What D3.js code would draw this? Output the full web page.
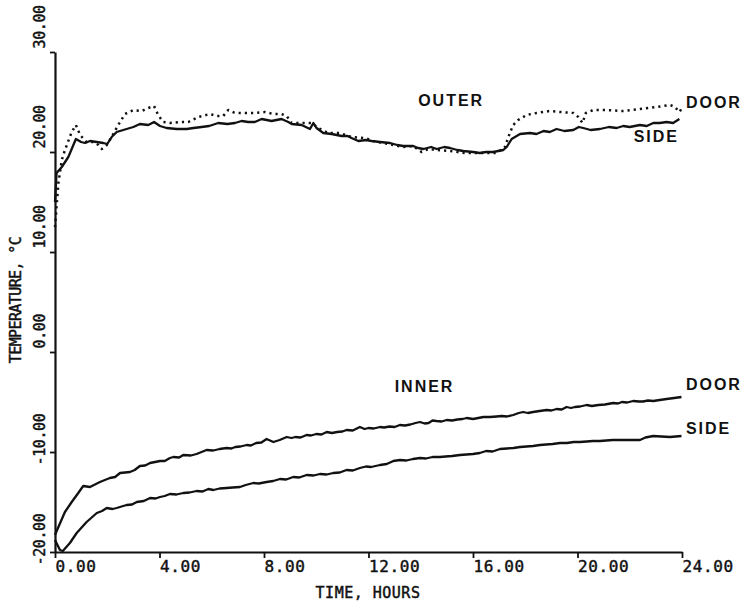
<!DOCTYPE html>
<html>
<head>
<meta charset="utf-8">
<script src="https://cdn.jsdelivr.net/npm/d3@7"></script>
<style>
  html, body { margin: 0; padding: 0; background: #fff; }
  svg { display: block; }
  .tick-label { font-family: "DejaVu Sans Mono", monospace; fill: #111; stroke: #111; stroke-width: 0.45px; }
  .curve-label { font-family: "Liberation Sans", Arial, sans-serif; font-weight: bold; fill: #111; }
</style>
</head>
<body>
<svg id="chart" width="750" height="608"></svg>
<script>
// Hourly temperature traces, [hours, °C]
const outerSide = [
  [0,15.0],[0.06,17.9],[0.26,18.5],[0.51,19.5],[0.8,21.3],[1.0,21.0],[1.15,20.9],[1.34,21.1],
  [1.6,21.0],[1.85,20.9],[2.0,20.8],[2.17,21.5],[2.36,22.0],[2.74,22.3],[3.0,22.5],[3.25,22.8],
  [3.57,22.7],[3.79,23.0],[4.02,22.6],[4.27,22.4],[4.66,22.3],[5.04,22.3],[5.3,22.4],[5.61,22.5],
  [5.9,22.6],[6.25,22.9],[6.6,22.8],[6.89,22.9],[7.14,23.1],[7.4,23.0],[7.65,23.0],[7.91,23.3],
  [8.29,23.1],[8.67,23.3],[8.93,23.0],[9.06,22.8],[9.44,22.7],[9.76,22.3],[9.89,22.9],[10.01,22.4],
  [10.27,21.9],[10.59,21.8],[10.97,21.6],[11.2,21.6],[11.35,21.4],[11.61,21.1],[11.9,21.2],[12.12,21.1],
  [12.44,21.0],[12.82,20.9],[13.1,20.7],[13.33,20.6],[13.71,20.6],[13.9,20.4],[14.1,20.3],[14.4,20.5],
  [14.61,20.3],[14.9,20.5],[15.12,20.4],[15.4,20.2],[15.63,20.1],[16.0,20.0],[16.26,19.9],[16.5,20.0],
  [16.77,20.0],[17.16,20.2],[17.29,20.5],[17.48,21.3],[17.8,21.8],[18.18,21.9],[18.43,21.8],[18.7,22.1],
  [18.94,22.0],[19.2,22.3],[19.5,22.1],[19.84,22.2],[20.05,22.5],[20.22,22.4],[20.5,22.2],[20.86,22.3],
  [21.2,22.5],[21.5,22.4],[21.75,22.6],[22.0,22.5],[22.39,22.7],[22.65,22.6],[22.9,22.9],[23.15,22.9],
  [23.41,23.0],[23.66,22.9],[23.9,23.3]
];

const outerDoor = [
  [0,12.5],[0.13,16.9],[0.26,19.2],[0.38,20.2],[0.64,22.0],[0.8,22.7],[0.96,21.7],[1.21,21.0],
  [1.47,21.0],[1.66,20.7],[1.79,20.3],[1.98,20.7],[2.17,21.5],[2.42,22.7],[2.68,23.8],[3.0,24.2],
  [3.32,24.1],[3.57,24.4],[3.79,24.6],[3.95,23.7],[4.14,23.0],[4.4,22.9],[4.78,23.0],[5.1,23.0],
  [5.48,23.5],[5.93,23.8],[6.19,23.6],[6.44,23.6],[6.63,24.2],[6.89,23.9],[7.21,23.9],[7.65,23.9],
  [8.04,24.0],[8.35,23.8],[8.67,23.8],[8.87,23.6],[9.06,22.9],[9.44,22.9],[9.82,22.9],[10.08,22.4],
  [10.46,21.9],[10.9,21.9],[11.35,21.5],[11.86,21.4],[12.18,21.1],[12.56,20.9],[13.33,20.5],[13.7,20.6],
  [14.03,20.0],[14.3,20.3],[14.61,20.2],[15.12,20.1],[15.69,19.9],[16.0,19.9],[16.52,19.9],[16.9,19.9],
  [17.22,20.5],[17.41,21.9],[17.54,22.7],[17.73,23.2],[18.05,23.7],[18.43,23.9],[18.94,24.1],[19.33,24.0],
  [19.84,23.9],[20.03,23.5],[20.19,22.9],[20.32,23.9],[20.6,24.2],[21.11,24.2],[21.75,24.1],[22.39,24.3],
  [23.03,24.5],[23.54,24.7],[23.73,24.5],[23.9,24.0],[24.0,24.4]
];

const innerDoor = [
  [0,-18.3],[0.13,-17.5],[0.38,-16.0],[0.64,-15.0],[0.89,-14.1],[1.08,-13.4],[1.34,-13.5],[1.72,-13.0],
  [2.1,-12.6],[2.3,-12.5],[2.49,-12.1],[2.87,-12.0],[3.05,-11.8],[3.25,-11.4],[3.45,-11.35],[3.64,-11.1],
  [4.02,-10.9],[4.2,-10.9],[4.4,-10.6],[4.53,-10.5],[4.75,-10.55],[4.91,-10.3],[5.2,-10.35],[5.42,-10.2],
  [5.8,-9.8],[6.06,-9.85],[6.3,-9.7],[6.57,-9.6],[6.75,-9.65],[6.9,-9.5],[7.1,-9.45],[7.34,-9.3],
  [7.5,-9.35],[7.7,-9.1],[7.9,-9.05],[8.1,-8.7],[8.36,-9.0],[8.6,-8.8],[8.87,-8.5],[9.05,-8.6],
  [9.2,-8.5],[9.4,-8.55],[9.63,-8.3],[9.8,-8.35],[10.0,-8.2],[10.2,-8.25],[10.4,-8.0],[10.6,-8.1],
  [10.8,-8.0],[11.0,-7.95],[11.16,-7.8],[11.4,-7.85],[11.67,-7.5],[11.85,-7.7],[12.0,-7.6],[12.2,-7.65],
  [12.44,-7.5],[12.6,-7.55],[12.8,-7.45],[13.0,-7.5],[13.2,-7.3],[13.4,-7.35],[13.6,-7.25],[13.8,-7.1],
  [13.97,-7.0],[14.15,-7.15],[14.3,-7.1],[14.45,-6.85],[14.6,-6.9],[14.8,-6.95],[14.99,-6.8],[15.2,-6.85],
  [15.4,-6.75],[15.6,-6.7],[15.76,-6.6],[16.0,-6.7],[16.2,-6.6],[16.4,-6.5],[16.65,-6.5],[16.9,-6.45],
  [17.1,-6.4],[17.3,-6.45],[17.54,-6.3],[17.75,-6.1],[17.92,-6.0],[18.1,-6.1],[18.3,-6.0],[18.55,-5.9],
  [18.82,-5.8],[19.0,-5.85],[19.2,-5.7],[19.4,-5.75],[19.58,-5.5],[19.75,-5.6],[19.9,-5.5],[20.1,-5.45],
  [20.35,-5.3],[20.55,-5.4],[20.8,-5.3],[21.05,-5.25],[21.37,-5.1],[21.55,-5.15],[21.7,-5.0],[21.9,-5.05],
  [22.13,-4.9],[22.35,-4.95],[22.5,-4.95],[22.7,-4.85],[22.9,-4.9],[23.15,-4.8],[23.41,-4.7],[23.7,-4.6],
  [23.98,-4.5]
];

const innerSide = [
  [0,-18.8],[0.19,-19.8],[0.3,-19.9],[0.57,-19.1],[0.83,-18.1],[1.21,-17.0],[1.6,-16.1],[1.8,-15.9],
  [1.98,-15.6],[2.2,-15.7],[2.36,-15.6],[2.55,-15.45],[2.74,-15.3],[2.95,-15.25],[3.13,-15.0],[3.4,-14.9],
  [3.64,-14.6],[3.85,-14.65],[4.02,-14.5],[4.2,-14.4],[4.4,-14.2],[4.65,-14.25],[4.91,-14.1],[5.15,-14.05],
  [5.42,-13.9],[5.65,-13.95],[5.87,-13.7],[6.06,-13.8],[6.3,-13.65],[6.57,-13.6],[6.8,-13.55],[7.08,-13.5],
  [7.3,-13.3],[7.59,-13.1],[7.8,-13.15],[8.1,-13.0],[8.35,-12.9],[8.61,-12.7],[8.85,-12.75],[9.12,-12.5],
  [9.35,-12.55],[9.63,-12.3],[9.9,-12.35],[10.14,-12.2],[10.4,-12.25],[10.65,-12.1],[10.9,-12.05],[11.16,-11.8],
  [11.4,-11.85],[11.67,-11.6],[11.9,-11.45],[12.1,-11.5],[12.44,-11.3],[12.7,-11.2],[12.95,-10.9],[13.2,-10.8],
  [13.45,-10.85],[13.7,-10.7],[13.97,-10.6],[14.2,-10.65],[14.45,-10.5],[14.73,-10.5],[14.95,-10.45],[15.2,-10.4],
  [15.5,-10.3],[15.75,-10.25],[16.0,-10.2],[16.26,-10.1],[16.5,-9.9],[16.75,-9.95],[17.03,-9.7],[17.3,-9.65],
  [17.55,-9.6],[17.8,-9.5],[18.05,-9.45],[18.3,-9.4],[18.56,-9.3],[18.8,-9.25],[19.05,-9.2],[19.33,-9.1],
  [19.6,-9.1],[19.85,-9.0],[20.09,-9.0],[20.35,-8.95],[20.6,-8.9],[20.86,-8.9],[21.1,-8.85],[21.35,-8.8],
  [21.62,-8.8],[21.9,-8.8],[22.15,-8.8],[22.39,-8.8],[22.6,-8.55],[22.9,-8.4],[23.2,-8.45],[23.54,-8.5],
  [23.98,-8.4]
];

const hourTicks = [0, 4, 8, 12, 16, 20, 24];
const hourTickLabels = ["0.00", "4.00", "8.00", "12.00", "16.00", "20.00", "24.00"];
const tempTicks = [-20, -10, 0, 10, 20, 30];
const tempTickLabels = ["-20.00", "-10.00", "0.00", "10.00", "20.00", "30.00"];

const curveLabels = [
  { text: "OUTER", h: 13.9, t: 24.6 },
  { text: "DOOR",  h: 24.15, t: 24.4 },
  { text: "SIDE",  h: 22.15, t: 21.0 },
  { text: "INNER", h: 13.0, t: -3.95 },
  { text: "DOOR",  h: 24.15, t: -3.8 },
  { text: "SIDE",  h: 24.15, t: -8.2 }
];

const svg = d3.select("#chart");
const ink = "#111";

const x = d3.scaleLinear().domain([0, 24]).range([55, 682]);
const y = d3.scaleLinear().domain([-20, 30]).range([552, 52]);

// Horizontal axis: ticks point down, labels start at each tick
const xAxis = svg.append("g")
  .attr("transform", `translate(0,${y(-20)})`)
  .call(d3.axisBottom(x).tickValues(hourTicks).tickSize(6).tickSizeOuter(0)
    .tickFormat((d, i) => hourTickLabels[i]));
xAxis.select(".domain").attr("stroke", ink).attr("stroke-width", 2.2);
xAxis.selectAll(".tick line").attr("stroke", ink).attr("stroke-width", 1.8);
xAxis.selectAll(".tick text")
  .attr("class", "tick-label")
  .attr("text-anchor", "start")
  .attr("x", 0).attr("dy", null).attr("y", 20)
  .style("font-size", "16px").style("letter-spacing", "0.6px");

// Vertical axis: rotated labels reading upward from just above each tick
const yAxis = svg.append("g")
  .attr("transform", `translate(${x(0)},0)`)
  .call(d3.axisLeft(y).tickValues(tempTicks).tickSize(5).tickSizeOuter(0)
    .tickFormat((d, i) => tempTickLabels[i]));
yAxis.select(".domain").attr("stroke", ink).attr("stroke-width", 2.2);
yAxis.selectAll(".tick line").attr("stroke", ink).attr("stroke-width", 1.8);
yAxis.selectAll(".tick text")
  .attr("class", "tick-label")
  .attr("text-anchor", "start")
  .attr("x", null).attr("dy", null)
  .attr("transform", d => `translate(-10,${d < 0 ? 13 : -4}) rotate(-90)`)
  .style("font-size", "15px").style("letter-spacing", "-0.4px");

// Axis titles
svg.append("text")
  .attr("class", "tick-label")
  .attr("x", 368).attr("y", 598)
  .attr("text-anchor", "middle")
  .style("font-size", "15px").style("letter-spacing", "0.5px")
  .text("TIME, HOURS");

svg.append("text")
  .attr("class", "tick-label")
  .attr("transform", "translate(21,300) rotate(-90)")
  .attr("text-anchor", "middle")
  .style("font-size", "15px").style("letter-spacing", "-0.6px")
  .text("TEMPERATURE, °C");

// Temperature traces
const line = d3.line().x(d => x(d[0])).y(d => y(d[1]));

const traces = [
  { data: outerSide, dash: null },
  { data: outerDoor, dash: "2.2,4" },
  { data: innerDoor, dash: null },
  { data: innerSide, dash: null }
];

svg.append("g").selectAll("path")
  .data(traces)
  .join("path")
  .attr("d", d => line(d.data))
  .attr("fill", "none")
  .attr("stroke", ink)
  .attr("stroke-width", d => d.dash ? 2.5 : 2.3)
  .attr("stroke-linejoin", "round")
  .attr("stroke-dasharray", d => d.dash);

// Curve labels
svg.append("g").selectAll("text")
  .data(curveLabels)
  .join("text")
  .attr("class", "curve-label")
  .attr("x", d => x(d.h))
  .attr("y", d => y(d.t))
  .style("font-size", "16px").style("letter-spacing", "2px")
  .text(d => d.text);
</script>
</body>
</html>
